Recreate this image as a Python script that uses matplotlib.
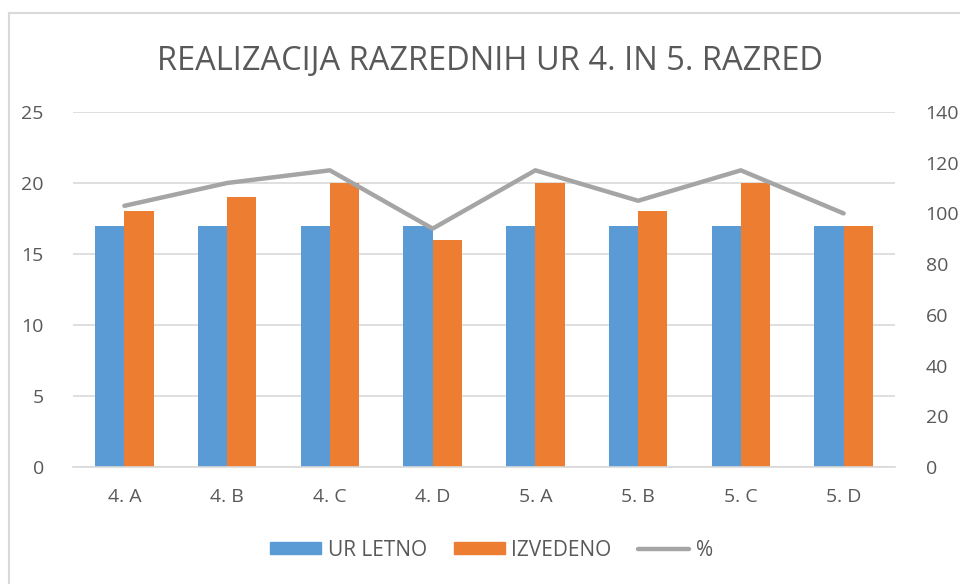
import numpy as np
import matplotlib.pyplot as plt
from matplotlib.lines import Line2D

# chart data
razredi = ['4. A', '4. B', '4. C', '4. D', '5. A', '5. B', '5. C', '5. D']
ur_letno = [17, 17, 17, 17, 17, 17, 17, 17]
izvedeno = [18, 19, 20, 16, 20, 18, 20, 17]
odstotek = [103, 112, 117, 94, 117, 105, 117, 100]

blue = '#5B9BD5'
orange = '#ED7D31'
gray = '#A5A5A5'
txt = '#595959'

plt.rcParams['font.family'] = ['Open Sans', 'DejaVu Sans']

fig = plt.figure(figsize=(9.6, 5.84), dpi=100)
ax = fig.add_axes([73 / 960, 117 / 584, 822 / 960, 355 / 584])
ax2 = ax.twinx()

x = np.arange(len(razredi))
w = 0.285
ax.bar(x - w / 2, ur_letno, w, color=blue, zorder=2)
ax.bar(x + w / 2, izvedeno, w, color=orange, zorder=2)
ax2.plot(x, odstotek, color=gray, lw=3.2, solid_capstyle='round')

ax.set_xlim(-0.5, len(razredi) - 0.5)
ax.set_ylim(0, 25)
ax.set_yticks(range(0, 26, 5))
ax2.set_ylim(0, 140)
ax2.set_yticks(range(0, 141, 20))
ax.set_xticks(x)
ax.set_xticklabels(razredi)

ax.grid(axis='y', color='#D9D9D9', lw=1.2, zorder=0)
ax.set_axisbelow(True)
for a in (ax, ax2):
    for s in a.spines.values():
        s.set_visible(False)
    a.tick_params(length=0, labelsize=14, colors=txt)
ax.spines['bottom'].set_visible(True)
ax.spines['bottom'].set_color('#D9D9D9')
ax.spines['bottom'].set_linewidth(1.2)
ax.tick_params(axis='y', pad=21)
ax.tick_params(axis='x', pad=15)
ax2.tick_params(axis='y', pad=22)

fig.text(0.51, 0.894, 'REALIZACIJA RAZREDNIH UR 4. IN 5. RAZRED',
         ha='center', va='center', fontsize=23.5, color=txt)

handles = [
    plt.Rectangle((0, 0), 1, 1, color=blue),
    plt.Rectangle((0, 0), 1, 1, color=orange),
    Line2D([0], [0], color=gray, lw=3.2, solid_capstyle='round'),
]
fig.legend(handles, ['UR LETNO', 'IZVEDENO', '%'], loc='center',
           bbox_to_anchor=(0.512, 0.058), ncol=3, frameon=False,
           fontsize=15, labelcolor=txt, handlelength=2.45, handleheight=0.5,
           columnspacing=1.3, handletextpad=0.3)

# chart border (top and left edge visible)
fig.add_artist(Line2D([9 / 960, 9 / 960], [0, 1 - 13 / 584], color='#D9D9D9', lw=1.5))
fig.add_artist(Line2D([9 / 960, 1], [1 - 13 / 584, 1 - 13 / 584], color='#D9D9D9', lw=1.5))

fig.savefig('out.png', dpi=100)
